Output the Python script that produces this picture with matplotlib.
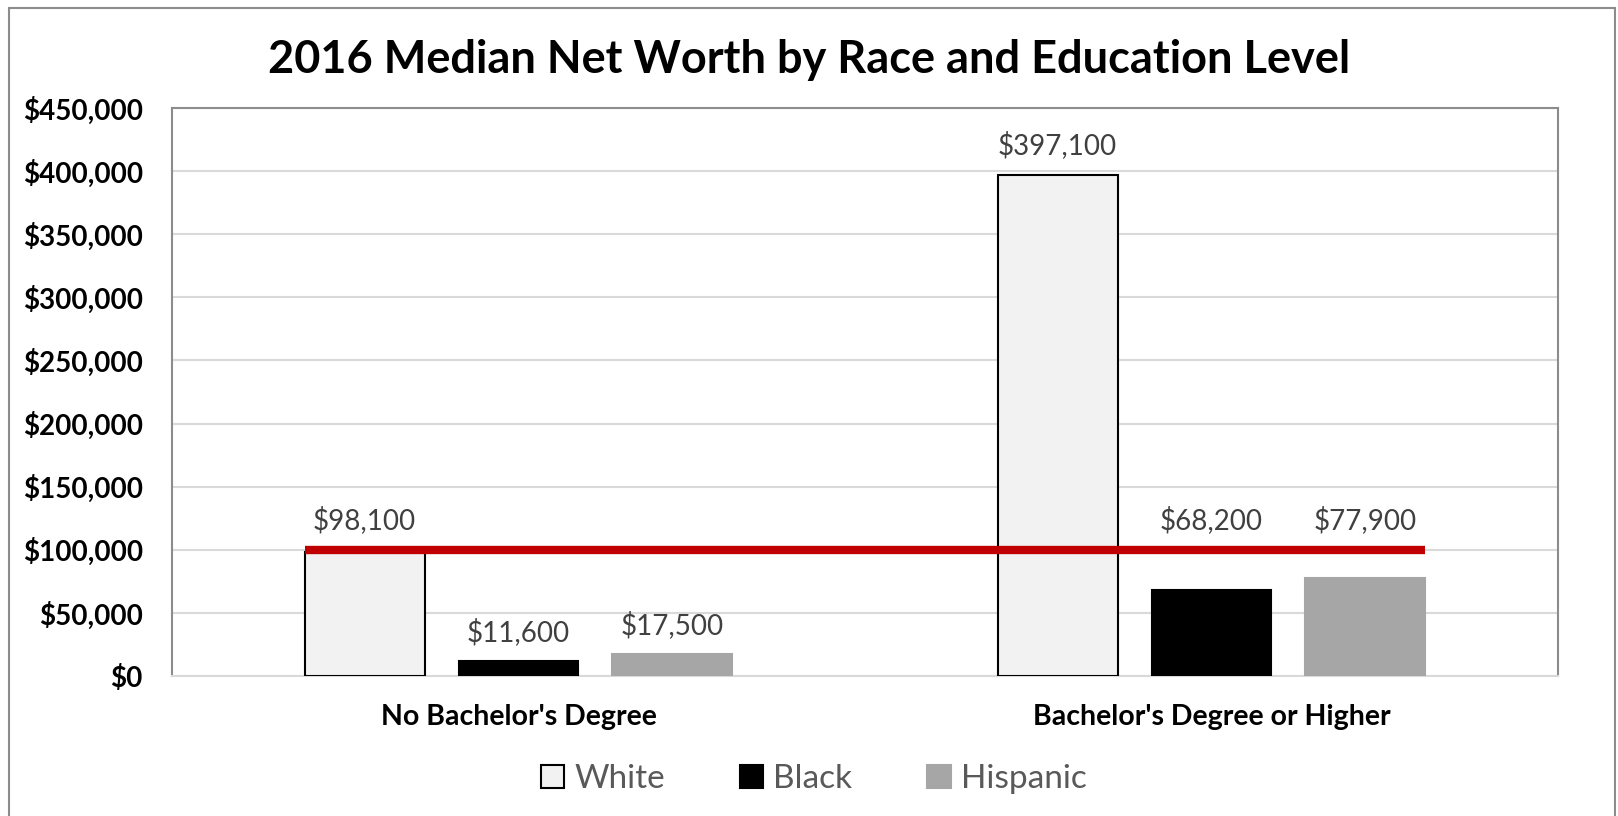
import matplotlib.pyplot as plt
from matplotlib.patches import Rectangle
from matplotlib.ticker import FuncFormatter
import numpy as np

plt.rcParams['font.family'] = ['Lato', 'DejaVu Sans']

categories = ["No Bachelor's Degree", "Bachelor's Degree or Higher"]
races = ['White', 'Black', 'Hispanic']
net_worth = {
    'White': [98100, 397100],
    'Black': [11600, 68200],
    'Hispanic': [17500, 77900],
}
benchmark = 100000
yticks = list(range(0, 450001, 50000))

colors = {'White': '#f2f2f2', 'Black': '#000000', 'Hispanic': '#a6a6a6'}
edges = {'White': '#000000', 'Black': '#000000', 'Hispanic': '#a6a6a6'}

fig = plt.figure(figsize=(16.18, 8.16), dpi=100)
ax = fig.add_axes([0.1063, 0.1716, 0.8566, 0.696])

x = np.arange(len(categories))
width = 0.173
offsets = [-0.222, 0.0, 0.222]

for race, off in zip(races, offsets):
    vals = net_worth[race]
    ax.bar(x + off, vals, width, color=colors[race], edgecolor=edges[race],
           linewidth=1.5, label=race, zorder=3)
    for xi, v in zip(x + off, vals):
        # a label that would run into the red line is lifted above it
        ytxt = v
        if v < benchmark and v + 38000 > benchmark:
            ytxt = benchmark
        ax.annotate(f"${v:,.0f}", (xi, ytxt), xytext=(0, 11),
                    textcoords='offset points', ha='center', va='bottom',
                    fontsize=20, color='#404040', zorder=5)

left = x[0] + offsets[0] - width / 2
right = x[-1] + offsets[-1] + width / 2
ax.plot([left, right], [benchmark, benchmark], color='#c00000', lw=6,
        solid_capstyle='butt', zorder=4)

ax.set_xlim(-0.5, 1.5)
ax.set_ylim(0, 450000)
ax.set_yticks(yticks)
ax.yaxis.set_major_formatter(FuncFormatter(lambda v, p: f"${v:,.0f}"))
ax.set_xticks(x)
ax.set_xticklabels(categories, fontsize=20.5, fontweight='bold')
ax.tick_params(axis='x', length=0, pad=20)
ax.tick_params(axis='y', length=0, pad=21, labelsize=20)
for lab in ax.get_yticklabels():
    lab.set_fontweight('bold')
ax.grid(axis='y', color='#d9d9d9', lw=1.5, zorder=0)
for s in ax.spines.values():
    s.set_color('#8c8c8c')
    s.set_linewidth(1.5)
ax.spines['bottom'].set_color('#d9d9d9')

fig.text(0.5, 0.926, '2016 Median Net Worth by Race and Education Level',
         fontsize=32.5, fontweight='bold', ha='center', va='center')

leg = fig.legend(loc='center', bbox_to_anchor=(0.503, 0.045), ncol=3,
                 frameon=False, fontsize=24, handlelength=0.7,
                 handleheight=0.7, columnspacing=2.25, handletextpad=0.3)
for t in leg.get_texts():
    t.set_color('#595959')

fig.patches.append(Rectangle((0.0056, -0.01), 0.9926, 1.0, transform=fig.transFigure,
                             fill=False, edgecolor='#8c8c8c', lw=1.5))

fig.savefig('out.png', dpi=100)
